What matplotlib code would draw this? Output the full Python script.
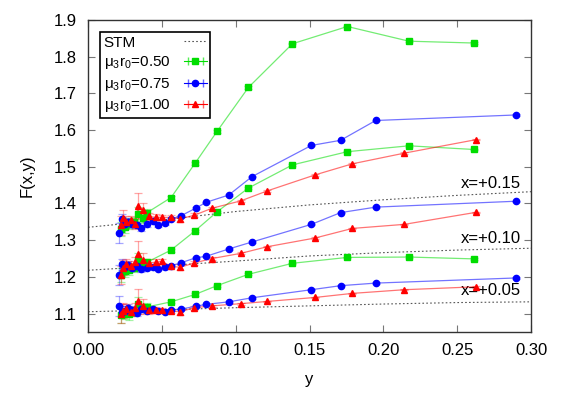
import matplotlib as mpl
mpl.use('Agg')

import matplotlib.pyplot as plt
import numpy as np

plt.rcParams['font.family'] = ['Liberation Sans', 'DejaVu Sans']
plt.rcParams['mathtext.fontset'] = 'custom'
plt.rcParams['mathtext.rm'] = 'Liberation Sans'
plt.rcParams['mathtext.it'] = 'Liberation Sans:italic'

# STM reference curves, one per x value
stm_y = [0.0, 0.05, 0.10, 0.15, 0.20, 0.25, 0.30]
stm_x015 = [1.335, 1.355, 1.378, 1.396, 1.410, 1.422, 1.432]
stm_x010 = [1.218, 1.230, 1.243, 1.257, 1.266, 1.273, 1.278]
stm_x005 = [1.105, 1.110, 1.116, 1.121, 1.126, 1.130, 1.132]
stm_labels = ['x=+0.15', 'x=+0.10', 'x=+0.05']

# mu3 r0 = 0.50 (green)
g_y = [0.022, 0.025, 0.028, 0.031, 0.034, 0.037, 0.040,
       0.0562, 0.0724, 0.0873, 0.1086, 0.1384, 0.1756, 0.2173, 0.2613]
g_x015 = [1.330, 1.335, 1.345, 1.350, 1.370, 1.360, 1.375,
          1.416, 1.509, 1.596, 1.716, 1.835, 1.882, 1.842, 1.837]
g_x010 = [1.205, 1.215, 1.220, 1.225, 1.245, 1.235, 1.240,
          1.273, 1.325, 1.377, 1.442, 1.505, 1.541, 1.557, 1.547]
g_x005 = [1.095, 1.100, 1.098, 1.105, 1.125, 1.115, 1.118,
          1.132, 1.152, 1.176, 1.207, 1.237, 1.253, 1.254, 1.249]
g_err = [0.020, 0.015, 0.015, 0.012, 0.020, 0.012, 0.010,
         0.004, 0.003, 0.003, 0.003, 0.002, 0.002, 0.002, 0.002]

# mu3 r0 = 0.75 (blue)
b_y = [0.021, 0.023, 0.025, 0.027, 0.030, 0.033, 0.036, 0.040,
       0.0438, 0.0474, 0.052, 0.056, 0.0627, 0.0729, 0.0799, 0.0953,
       0.111, 0.1512, 0.171, 0.1948, 0.2896]
b_x015 = [1.320, 1.357, 1.345, 1.350, 1.343, 1.340, 1.334, 1.343,
          1.352, 1.341, 1.346, 1.357, 1.366, 1.387, 1.403, 1.423,
          1.473, 1.558, 1.572, 1.626, 1.641]
b_x010 = [1.205, 1.235, 1.228, 1.232, 1.225, 1.230, 1.222, 1.225,
          1.228, 1.222, 1.226, 1.230, 1.238, 1.252, 1.256, 1.276,
          1.295, 1.343, 1.375, 1.390, 1.406]
b_x005 = [1.120, 1.105, 1.108, 1.115, 1.110, 1.102, 1.112, 1.108,
          1.112, 1.108, 1.105, 1.110, 1.112, 1.120, 1.125, 1.132,
          1.143, 1.165, 1.176, 1.183, 1.197]
b_err = [0.027, 0.015, 0.012, 0.010, 0.010, 0.008, 0.008, 0.006,
         0.005, 0.004, 0.004, 0.003, 0.003, 0.003, 0.002, 0.002,
         0.002, 0.002, 0.002, 0.002, 0.002]

# mu3 r0 = 1.00 (red)
r_y = [0.022, 0.024, 0.026, 0.029, 0.032, 0.034, 0.037, 0.041,
       0.0458, 0.0499, 0.0562, 0.0623, 0.072, 0.084, 0.1034, 0.1212,
       0.1539, 0.179, 0.2141, 0.263]
r_x015 = [1.340, 1.361, 1.350, 1.355, 1.345, 1.393, 1.381, 1.365,
          1.362, 1.362, 1.362, 1.358, 1.368, 1.387, 1.407, 1.434,
          1.478, 1.508, 1.537, 1.574]
r_x010 = [1.205, 1.225, 1.235, 1.230, 1.240, 1.262, 1.245, 1.238,
          1.240, 1.242, 1.229, 1.226, 1.238, 1.250, 1.264, 1.282,
          1.306, 1.332, 1.343, 1.376]
r_x005 = [1.100, 1.108, 1.112, 1.105, 1.115, 1.133, 1.120, 1.110,
          1.110, 1.109, 1.107, 1.105, 1.116, 1.121, 1.127, 1.133,
          1.144, 1.155, 1.165, 1.173]
r_err = [0.025, 0.020, 0.015, 0.012, 0.015, 0.035, 0.020, 0.010,
         0.008, 0.006, 0.006, 0.008, 0.005, 0.003, 0.003, 0.002,
         0.002, 0.002, 0.002, 0.002]

fig = plt.figure(figsize=(5.68, 3.98), dpi=100)
ax = fig.add_axes([0.155, 0.166, 0.78, 0.784])

# STM dotted curves and their labels
for vals, lab in zip([stm_x015, stm_x010, stm_x005], stm_labels):
    ax.plot(stm_y, vals, ls=(0, (1.5, 2)), color='#555555', lw=0.8, zorder=1)
    ax.text(0.293, vals[-2] + 0.012, lab, ha='right', va='bottom', fontsize=12)

series = [
    (g_y, [g_x015, g_x010, g_x005], g_err, '#00dd00', 's', 4.5),
    (b_y, [b_x015, b_x010, b_x005], b_err, '#0000ff', 'o', 4.5),
    (r_y, [r_x015, r_x010, r_x005], r_err, '#ff0000', '^', 4.0),
]

for ys, groups, err, col, mk, ms in series:
    for vals in groups:
        ax.errorbar(ys, vals, yerr=err, fmt='none', ecolor=col, alpha=0.35,
                    elinewidth=0.9, capsize=3, capthick=0.9, zorder=2)
        ax.plot(ys, vals, '-', color=col, alpha=0.55, lw=0.9, zorder=3)
        ax.plot(ys, vals, ls='none', marker=mk, color=col, ms=ms, zorder=4)

# legend proxies (gnuplot style: horizontal bar with caps)
h_stm, = ax.plot([np.nan], [np.nan], ls=(0, (1.5, 2)), color='#555555', lw=0.8)
h_g = ax.errorbar([np.nan], [np.nan], xerr=[1], fmt='-s', color='#00dd00', ms=4.5,
                  ecolor='#55ee55', capsize=3, lw=0.8)
h_b = ax.errorbar([np.nan], [np.nan], xerr=[1], fmt='-o', color='#0000ff', ms=4.5,
                  ecolor='#6666ff', capsize=3, lw=0.8)
h_r = ax.errorbar([np.nan], [np.nan], xerr=[1], fmt='-^', color='#ff0000', ms=4,
                  ecolor='#ff6666', capsize=3, lw=0.8)
leg = ax.legend([h_stm, h_g, h_b, h_r],
                ['STM', 'μ$_3$r$_0$=0.50', 'μ$_3$r$_0$=0.75', 'μ$_3$r$_0$=1.00'],
                loc='upper left', bbox_to_anchor=(0.027, 0.9615), borderaxespad=0,
                fontsize=11, fancybox=False, framealpha=1, edgecolor='black',
                markerfirst=False, handlelength=1.45, handletextpad=0.9,
                borderpad=0.25, labelspacing=0.3)
leg.get_frame().set_linewidth(1.2)

# left-align the labels while keeping the keys on the right
fig.canvas.draw()
renderer = fig.canvas.get_renderer()
widths = [t.get_window_extent(renderer).width for t in leg.get_texts()]
col = leg._legend_handle_box.get_children()[0]
col.align = 'left'
for row, w in zip(col.get_children(), widths):
    row.sep += (max(widths) - w) * 72 / fig.dpi

ax.set_xlim(0, 0.30)
ax.set_ylim(1.05, 1.9)
ax.set_xticks(np.arange(0, 0.31, 0.05))
ax.set_xticklabels(['%.2f' % v for v in np.arange(0, 0.31, 0.05)])
ax.set_yticks(np.arange(1.1, 1.91, 0.1))
ax.set_yticklabels(['%.1f' % v for v in np.arange(1.1, 1.91, 0.1)])
ax.tick_params(direction='in', top=True, right=True, labelsize=12,
               length=5, color='#777777', pad=8)
for sp in ax.spines.values():
    sp.set_linewidth(1.0)
    sp.set_color('#333333')

ax.set_xlabel('y', fontsize=12, labelpad=10)
ax.set_ylabel('F(x,y)', fontsize=12, labelpad=14)

fig.savefig('out.png', dpi=100)
